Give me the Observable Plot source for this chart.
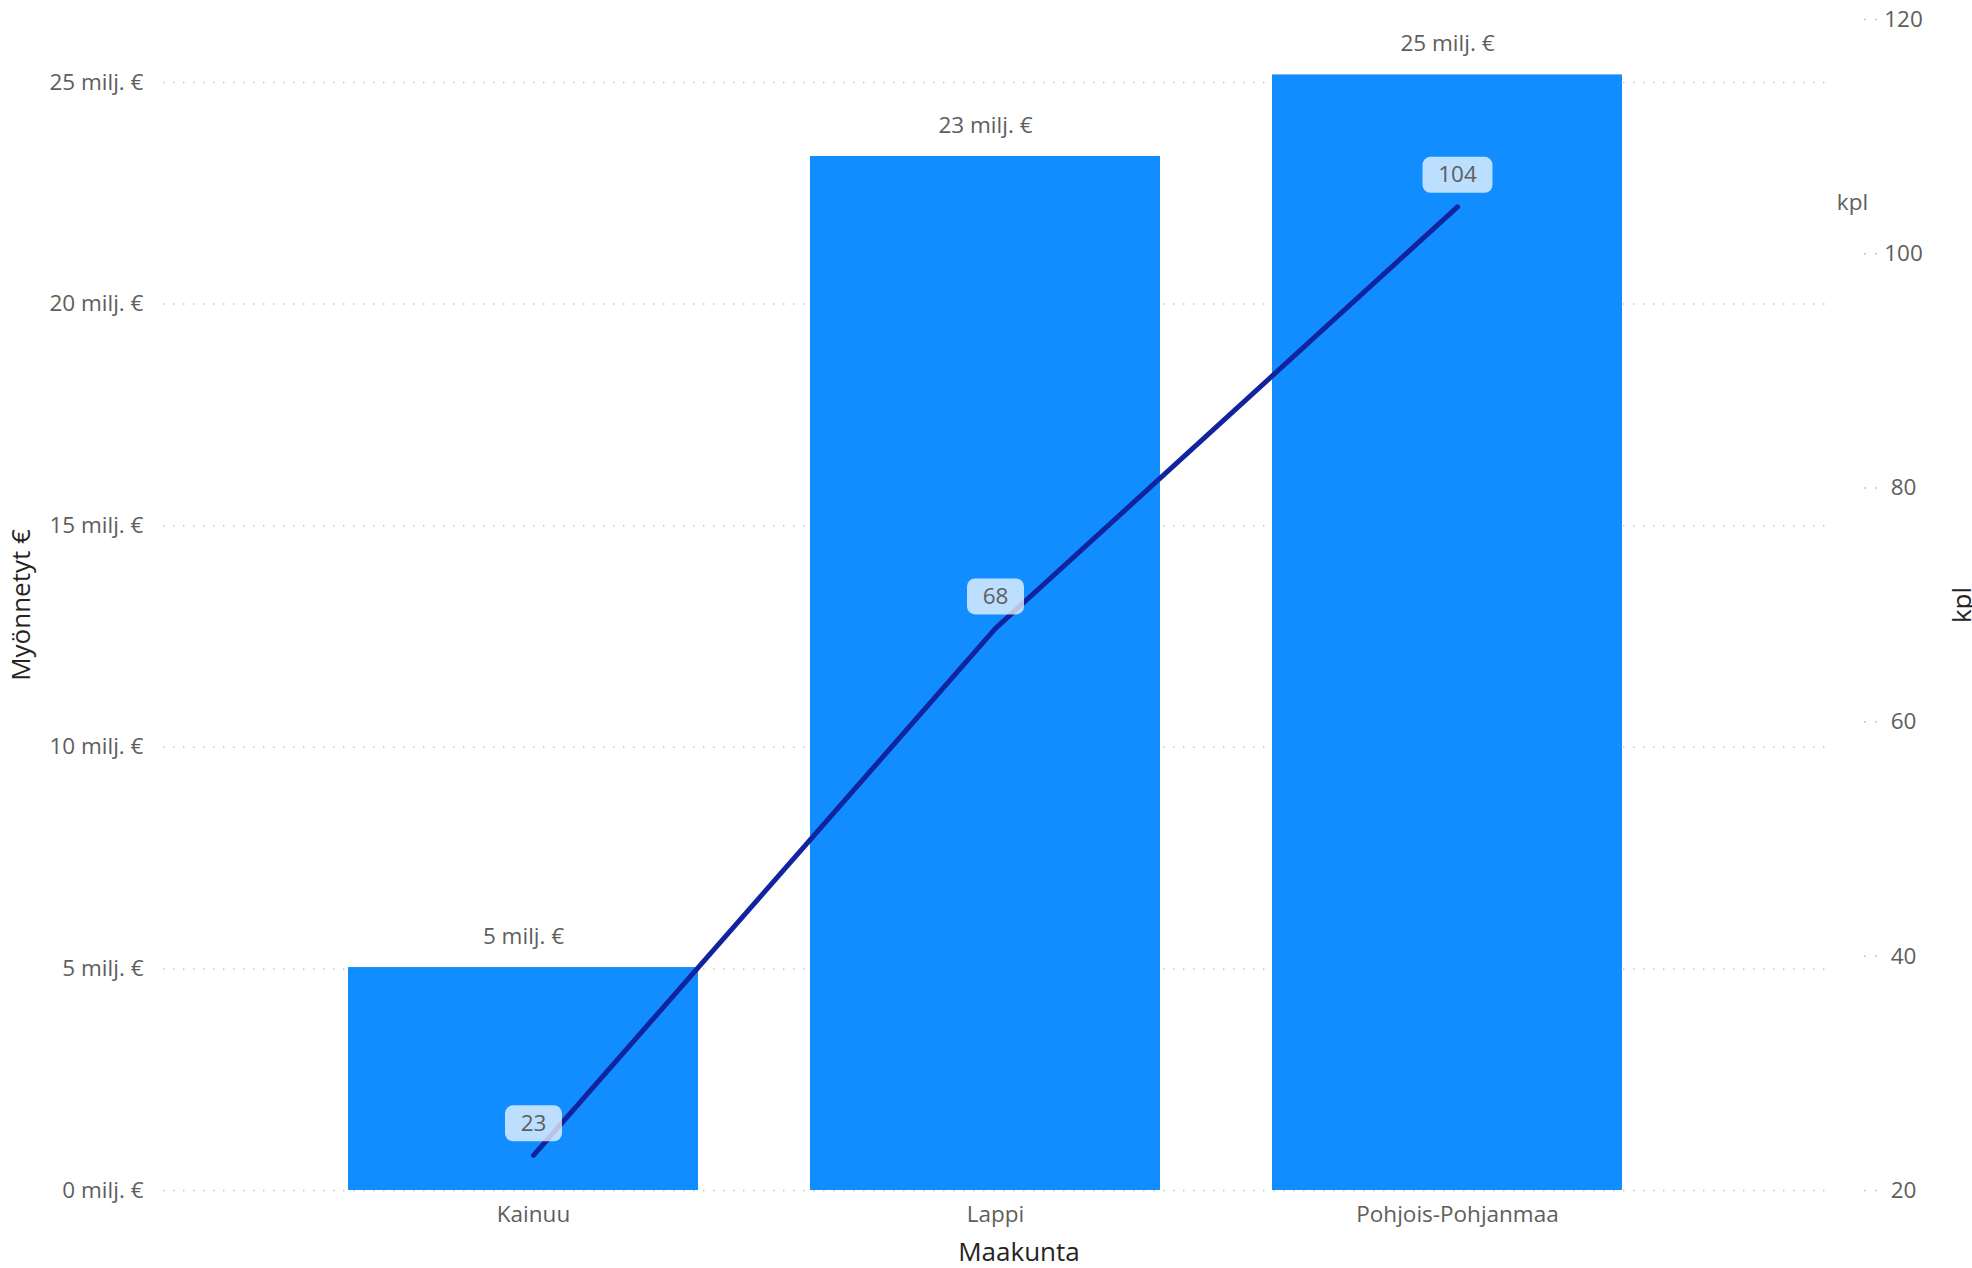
<!DOCTYPE html>
<html><head><meta charset="utf-8">
<script src="https://cdn.jsdelivr.net/npm/d3@7"></script>
<script src="https://cdn.jsdelivr.net/npm/@observablehq/plot@0.6"></script>
<style>html,body{margin:0;padding:0;background:#fff;} svg{display:block}</style>
</head><body><div id="chart"></div>
<script>
// ---- data ----
const regions = ["Kainuu", "Lappi", "Pohjois-Pohjanmaa"];
const grantedMillions = [5.03, 23.33, 25.17];   // Myönnetyt € (milj.)
const counts = [23, 68, 104];                     // kpl
const leftTicks = [0, 5, 10, 15, 20, 25];
const rightTicks = [20, 40, 60, 80, 100, 120];

// ---- scales for dual axis ----
const yMax = 26.42;
const kplMin = 20, kplMax = 120;
const toY = k => (k - kplMin) / (kplMax - kplMin) * yMax;
const fromY = y => Math.round(y / yMax * (kplMax - kplMin) + kplMin);

const data = regions.map((r, i) => ({region: r, value: grantedMillions[i], count: counts[i]}));

function roundRect(w, h, r) {
  return {draw(ctx) {
    const x0 = -w / 2, y0 = -h / 2, x1 = w / 2, y1 = h / 2;
    ctx.moveTo(x0 + r, y0);
    ctx.lineTo(x1 - r, y0); ctx.arcTo(x1, y0, x1, y0 + r, r);
    ctx.lineTo(x1, y1 - r); ctx.arcTo(x1, y1, x1 - r, y1, r);
    ctx.lineTo(x0 + r, y1); ctx.arcTo(x0, y1, x0, y1 - r, r);
    ctx.lineTo(x0, y0 + r); ctx.arcTo(x0, y0, x0 + r, y0, r);
    ctx.closePath();
  }};
}

const gray = "#605E5C", dark = "#252423";

const plot = Plot.plot({
  width: 1972, height: 1268,
  marginLeft: 163, marginRight: 146, marginTop: 19, marginBottom: 78,
  style: {fontFamily: "'Open Sans', sans-serif", fontSize: "22.5px", color: gray, background: "#fff"},
  x: {domain: regions, paddingInner: 0.243, paddingOuter: 0.42, label: null},
  y: {domain: [0, yMax], label: null},
  marks: [
    Plot.gridY(leftTicks, {stroke: "#C8C6C4", strokeOpacity: 1, strokeWidth: 1.5, strokeDasharray: "1.5,8.5"}),
    Plot.axisY(leftTicks, {anchor: "left", tickSize: 0, tickPadding: 20, tickFormat: d => `${d} milj. €`, label: null, fill: gray}),
    Plot.axisY(rightTicks.map(toY), {anchor: "right", tickSize: 14, dx: 37, stroke: "#C8C6C4", strokeWidth: 1.5, strokeDasharray: "2,9", tickFormat: () => "", label: null}),
    Plot.axisY(rightTicks.map(toY), {anchor: "right", tickSize: 0, tickPadding: 0, dx: 77, textAnchor: "middle", tickFormat: d => fromY(d), label: null, fill: gray}),
    Plot.axisX({tickSize: 0, tickPadding: 16, label: null, fill: gray}),
    Plot.barY(data, {x: "region", y: "value", fill: "#118DFF", dx: -10}),
    Plot.text(data, {x: "region", y: "value", text: d => `${Math.round(d.value)} milj. €`, dy: -31, dx: -10, fill: gray}),
    Plot.line(data, {x: "region", y: d => toY(d.count), stroke: "#12239E", strokeWidth: 5, strokeLinecap: "round", strokeLinejoin: "round"}),
    Plot.dot(data.filter(d => String(d.count).length === 2), {x: "region", y: d => toY(d.count), symbol: roundRect(57, 36, 8), fill: "#ffffff", fillOpacity: 0.72, stroke: null, dy: -32}),
    Plot.dot(data.filter(d => String(d.count).length === 3), {x: "region", y: d => toY(d.count), symbol: roundRect(70, 36, 8), fill: "#ffffff", fillOpacity: 0.72, stroke: null, dy: -32}),
    Plot.text(data, {x: "region", y: d => toY(d.count), text: d => String(d.count), dy: -32, fill: gray}),
    Plot.text(["kpl"], {frameAnchor: "top-right", textAnchor: "middle", lineAnchor: "middle", dx: 26, dy: 183, fill: gray}),
    Plot.text(["kpl"], {frameAnchor: "right", textAnchor: "middle", dx: 126, rotate: -90, lineAnchor: "top", fontSize: 26, fontWeight: 500, fill: dark}),
    Plot.text(["Myönnetyt €"], {frameAnchor: "left", textAnchor: "middle", dx: -142, rotate: -90, fontSize: 26, fontWeight: 500, fill: dark}),
    Plot.text(["Maakunta"], {frameAnchor: "bottom", textAnchor: "middle", lineAnchor: "middle", dy: 62, dx: 24, fontSize: 26, fontWeight: 500, fill: dark})
  ]
});
document.getElementById("chart").appendChild(plot);
</script>
</body></html>
